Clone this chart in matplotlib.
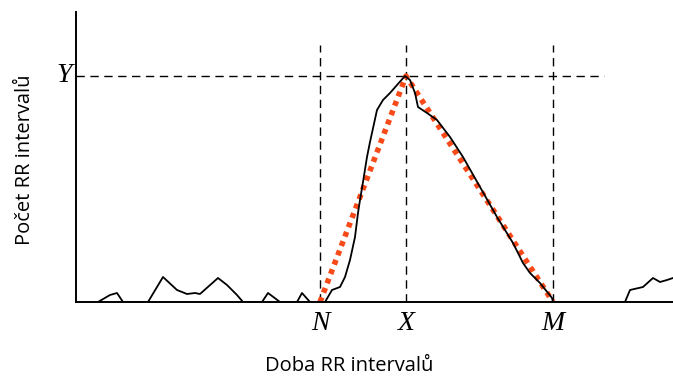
import matplotlib
matplotlib.use("Agg")
import matplotlib.pyplot as plt

# Histogram curve (schematic units: x = RR duration, y = count)
curve_x = [98, 110, 117, 123, 148, 163, 177, 187, 195, 200, 218, 227, 237, 243,
           262, 268, 280, 297, 302, 310, 325, 332, 340, 345, 350, 355, 358, 360,
           363, 367, 370, 377, 383, 390, 397, 405, 410, 415, 418, 427, 437, 450,
           463, 480, 497, 513, 523, 530, 540, 552, 553, 625, 630, 643, 653, 660,
           667, 673]
curve_y = [0, 7, 9, 0, 0, 25, 12, 8, 9, 8, 24, 17, 7, 0,
           0, 9, 0, 0, 9, 0, 0, 12, 15, 25, 42, 65, 89, 102,
           120, 145, 160, 192, 202, 209, 217, 226, 222, 209, 195, 189, 182, 165,
           145, 115, 85, 59, 39, 29, 19, 4, 0, 0, 12, 15, 24, 20,
           22, 24]

# Triangle approximation points
tri_x = [320, 406, 553]
tri_y = [0, 226, 0]

# Key positions
N_x, X_x, M_x = 320, 406, 553
Y_val = 226
labels = ["N", "X", "M"]

fig = plt.figure(figsize=(6.73, 3.76), dpi=100)
ax = fig.add_axes([76/673, 74/376, (673-76)/673, 290/376])
ax.set_xlim(76, 673)
ax.set_ylim(0, 290)

for s in ["top", "right"]:
    ax.spines[s].set_visible(False)
ax.spines["left"].set_linewidth(1.4)
ax.spines["bottom"].set_linewidth(1.4)
ax.set_xticks([])
ax.set_yticks([])

dash = (0, (6, 4))
for xv in [N_x, X_x, M_x]:
    ax.plot([xv, xv], [0, 257], color="black", lw=1.0, linestyle=dash, zorder=1)
ax.plot([76, 604], [Y_val, Y_val], color="black", lw=1.0, linestyle=dash, zorder=1)

ax.plot(curve_x, curve_y, color="black", lw=1.3, zorder=3)
ax.plot(tri_x, tri_y, color="#f84a18", lw=4.0, linestyle=(0, (0.9, 0.9)),
        dash_capstyle="butt", zorder=2)

serif = ["Liberation Serif", "DejaVu Serif"]
for xv, lab in zip([N_x, X_x, M_x], labels):
    ax.text(xv, -9, lab, ha="center", va="top", fontsize=20, style="italic",
            family=serif, clip_on=False)
ax.text(72, Y_val + 1, "Y", ha="right", va="center", fontsize=20, style="italic",
        family=serif, clip_on=False)

fig.text(25/673, 1 - 160/376, "Počet RR intervalů", rotation=90, ha="center",
         va="center", fontsize=14.5, family=["Open Sans", "DejaVu Sans"])
fig.text(349/673, 1 - 366/376, "Doba RR intervalů", ha="center", va="center",
         fontsize=14.5, family=["Open Sans", "DejaVu Sans"])

fig.savefig("out.png", dpi=100)
